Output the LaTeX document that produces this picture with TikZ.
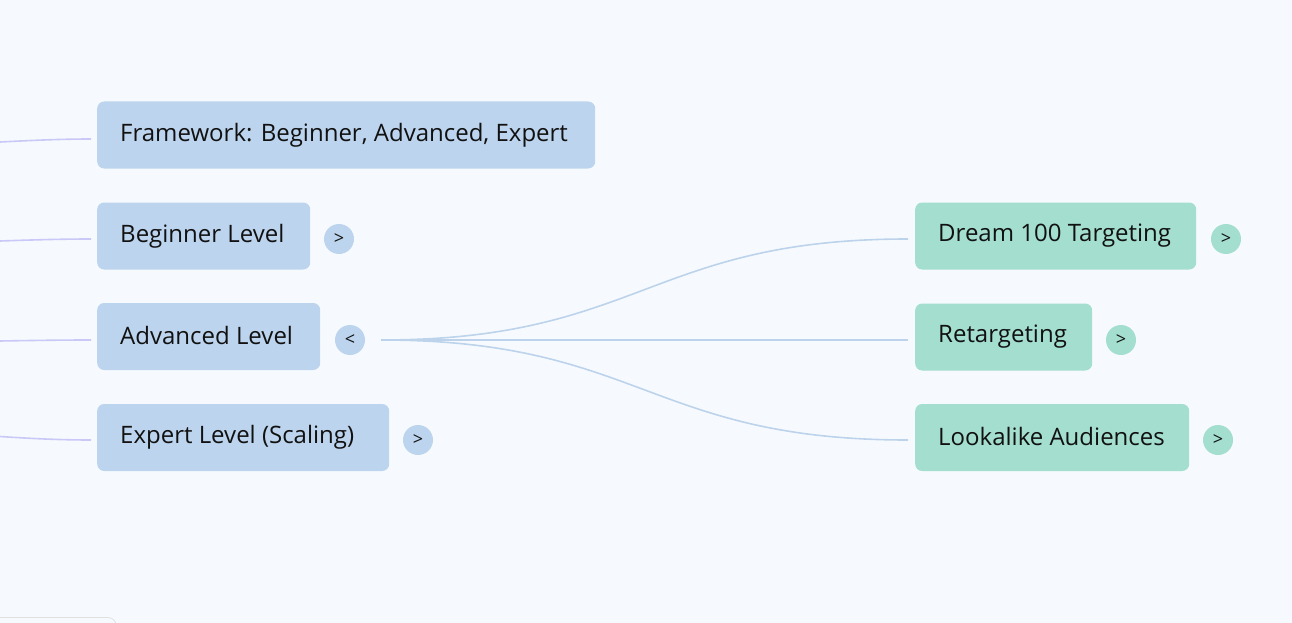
\documentclass[tikz,border=0pt]{standalone}
\usepackage{fontspec}
\setmainfont{Open Sans}
\definecolor{bg}{HTML}{F6FAFE}
\definecolor{bluebox}{HTML}{BCD4ED}
\definecolor{greenbox}{HTML}{A3DECE}
\definecolor{leftline}{HTML}{C9C8F6}
\definecolor{rightline}{HTML}{BDD3EB}
\definecolor{txt}{HTML}{111111}
\tikzset{
  topic/.style={rounded corners=7pt, inner xsep=0pt, inner ysep=0pt, minimum height=67pt, anchor=west, font=\fontsize{24}{28}\selectfont, text=txt},
  bluetopic/.style={topic, fill=bluebox},
  greentopic/.style={topic, fill=greenbox},
  toggle/.style={circle, minimum size=30pt, inner sep=0pt, font=\fontsize{18}{20}\selectfont, text=txt},
  lconn/.style={draw=leftline, line width=1.6pt},
  rconn/.style={draw=rightline, line width=1.6pt},
}
\newcommand{\boxtext}[2]{\makebox[#1pt][l]{\hspace{23pt}\raisebox{1.5pt}{#2}}}
\begin{document}
\begin{tikzpicture}[x=1pt,y=-1pt]
\fill[bg] (0,0) rectangle (1292,623);
\useasboundingbox (0,0) rectangle (1292,623);
% bottom-left partial panel
\begin{scope}
\clip (0,0) rectangle (1292,623);
\draw[draw=black!12, fill=bg, line width=0.8pt, rounded corners=8pt] (-20,617.5) rectangle (116,660);
\end{scope}

% left column
\node[bluetopic] (fw) at (97,135) {\boxtext{498}{Framework: Beginner, Advanced, Expert}};
\node[bluetopic] (beg) at (97,236) {\boxtext{213}{Beginner Level}};
\node[bluetopic] (adv) at (97,336.5) {\boxtext{223}{Advanced Level}};
\node[bluetopic] (exp) at (97,437.5) {\boxtext{292}{Expert Level (Scaling)}};

\node[toggle, fill=bluebox] (tbeg) at (339,239) {>};
\node[toggle, fill=bluebox] (tadv) at (350,340) {<};
\node[toggle, fill=bluebox] (texp) at (418,440) {>};

% right column
\node[greentopic] (d100) at (915,236) {\boxtext{281}{Dream 100 Targeting}};
\node[greentopic] (ret) at (915,337) {\boxtext{177}{Retargeting}};
\node[greentopic] (look) at (915,437.5) {\boxtext{274}{Lookalike Audiences}};

\node[toggle, fill=greenbox] (td100) at (1226,239) {>};
\node[toggle, fill=greenbox] (tret) at (1121,340) {>};
\node[toggle, fill=greenbox] (tlook) at (1218,440) {>};

% left connectors (from off-picture root)
\coordinate (l1) at (0,142);
\coordinate (l2) at (0,241);
\coordinate (l3) at (0,341);
\coordinate (l4) at (0,436.5);
\coordinate (e1) at (91,139);
\coordinate (e2) at (91,239);
\coordinate (e3) at (91,340);
\coordinate (e4) at (91,440);
\draw[lconn] (l1) .. controls (30,140.5) and (60,139) .. (e1);
\draw[lconn] (l2) .. controls (30,240) and (60,239) .. (e2);
\draw[lconn] (l3) .. controls (30,340.5) and (60,340) .. (e3);
\draw[lconn] (l4) .. controls (30,438.5) and (60,440) .. (e4);

% right connectors
\coordinate (rs) at (381,340);
\coordinate (r1) at (908,239);
\coordinate (r2) at (908,340);
\coordinate (r3) at (908,440);
\draw[rconn] (rs) .. controls (640,340) and (650,239) .. (r1);
\draw[rconn] (rs) -- (r2);
\draw[rconn] (rs) .. controls (640,340) and (650,440) .. (r3);
\end{tikzpicture}
\end{document}
